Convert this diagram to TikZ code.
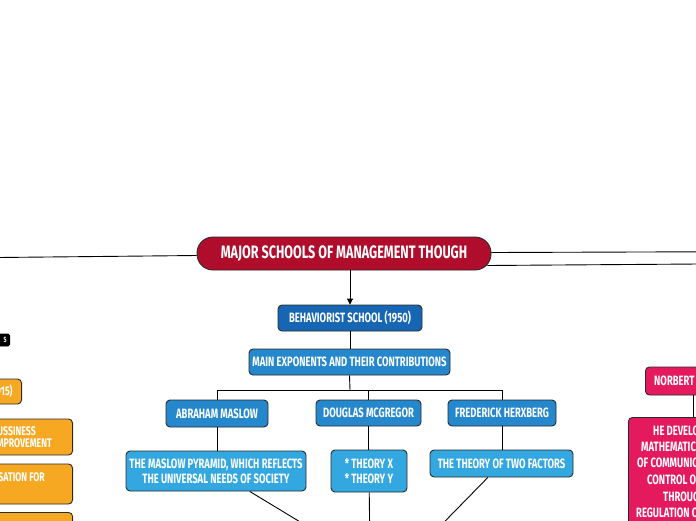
\documentclass[tikz,border=0pt]{standalone}
\usepackage{fontspec}
\setmainfont{Fira Sans}[FakeStretch=0.7]
\usetikzlibrary{arrows.meta}
\definecolor{rootred}{HTML}{B00C2B}
\definecolor{behavblue}{HTML}{1666B3}
\definecolor{midblue}{HTML}{2587CC}
\definecolor{lightblue}{HTML}{33A7E0}
\definecolor{orangebox}{HTML}{F7A823}
\definecolor{pinkbox}{HTML}{E5195E}
\definecolor{edge}{HTML}{2B2B2B}
\begin{document}
\begin{tikzpicture}[x=1pt,y=-1pt,
  box/.style={draw=edge, line width=0.9pt, rounded corners=4pt, text=white,
    font=\bfseries\fontsize{13.5}{15}\selectfont, inner sep=0pt, align=center},
  rootbox/.style={box, fill=rootred, rounded corners=16pt, font=\bfseries\fontsize{18}{20}\selectfont},
  lbl/.style={text=white, font=\bfseries\fontsize{13.5}{15}\selectfont, inner sep=0pt},
  lbls/.style={lbl, font=\bfseries\fontsize{12.5}{14}\selectfont},
  link/.style={draw=black, line width=0.9pt},
]
\path[use as bounding box] (0,0) rectangle (696,520);
\fill[white] (0,0) rectangle (696,520);
\clip (0,0) rectangle (696,520);

% coordinates for free ends
\coordinate (leftEnd) at (-2,257.5);
\coordinate (rightA) at (698,251.8);
\coordinate (rightB) at (698,264);
\coordinate (c1) at (363,560);
\coordinate (c2) at (370,560);
\coordinate (c3) at (407,560);
\coordinate (hub) at (350,390);

% nodes
\node[rootbox, minimum width=294, minimum height=33] (root) at (344,253.5) {MAJOR SCHOOLS OF MANAGEMENT THOUGH};
\node[box, fill=behavblue, minimum width=144, minimum height=26] (behav) at (350,318) {BEHAVIORIST SCHOOL (1950)};
\node[box, fill=midblue, minimum width=201, minimum height=26] (main) at (349.5,362) {MAIN EXPONENTS AND THEIR CONTRIBUTIONS};
\node[box, fill=midblue, minimum width=102, minimum height=27] (maslow) at (217,413.5) {ABRAHAM MASLOW};
\node[box, fill=midblue, minimum width=105, minimum height=26] (dm) at (368.5,413) {DOUGLAS MCGREGOR};
\node[box, fill=midblue, minimum width=108, minimum height=26] (herx) at (502,413) {FREDERICK HERXBERG};
\node[box, fill=lightblue, minimum width=180, minimum height=40] (pyr) at (216,471) {THE MASLOW PYRAMID, WHICH REFLECTS\\THE UNIVERSAL NEEDS OF SOCIETY};
\node[box, fill=lightblue, minimum width=76, minimum height=42, align=left] (xy) at (369,471) {* THEORY X\\* THEORY Y};
\node[box, fill=lightblue, minimum width=143, minimum height=27] (two) at (501.5,463.5) {THE THEORY OF TWO FACTORS};

% left side (cut off at the edge, as in the reference)
\node[box, fill=black, draw=black, rounded corners=1.5pt, anchor=east, minimum width=30, minimum height=12,
  text width=24, align=right, inner xsep=3pt, font=\bfseries\fontsize{7.5}{8}\selectfont] (blk) at (10,340) {S};
\node[box, fill=orangebox, anchor=east, minimum width=70, minimum height=25, text width=60, align=right, inner xsep=9pt,
  font=\bfseries\fontsize{12.5}{14}\selectfont] (o1) at (22,391.5) {(1915)};
\node[box, fill=orangebox, anchor=east, minimum width=140, minimum height=36] (o2) at (73,437) {};
\node[lbls, anchor=east] (o2a) at (36,431.5) {BUSSINESS};
\node[lbls, anchor=east] (o2b) at (52,443.5) {IMPROVEMENT};
\node[box, fill=orangebox, anchor=east, minimum width=140, minimum height=40] (o3) at (73,484) {};
\node[lbls, anchor=east] (o3a) at (45,477) {ORGANISATION FOR};
\node[box, fill=orangebox, anchor=north east, minimum width=140, minimum height=30] (o4) at (73,512) {};

% right side (cut off at the edge, as in the reference)
\node[box, fill=pinkbox, anchor=west, minimum width=120, minimum height=28] (n1) at (645,381) {};
\node[lbl, anchor=west] (n1a) at (654,381) {NORBERT WIENER};
\node[box, fill=pinkbox, anchor=north west, minimum width=160, minimum height=120] (n2) at (628,417) {};
\node[lbl, anchor=west] (t1) at (653,431) {HE DEVELOPED};
\node[lbl, anchor=west] (t2) at (641,447) {MATHEMATICAL};
\node[lbl, anchor=west] (t3) at (637,463) {OF COMMUNICATION};
\node[lbl, anchor=west] (t4) at (647,479.5) {CONTROL OF};
\node[lbl, anchor=west] (t5) at (663,497) {THROUGH};
\node[lbl, anchor=west] (t6) at (636,513) {REGULATION OF};

% connectors
\draw[link] ([yshift=-2pt]root.west) -- (leftEnd);
\draw[link] ([yshift=1pt]root.east) -- (rightA);
\draw[link] ([xshift=-4pt,yshift=-12pt]root.east) -- (rightB);
\draw[link, -{Triangle[length=6pt,width=6pt]}] (behav.north |- root.south) -- (behav.north);
\draw[link] (behav.south) -- (behav.south |- main.north);
\draw[link] (main.south) -- (hub);
\draw[link] (hub) -| (maslow.north);
\draw[link] (hub) -| (dm.north);
\draw[link] (hub) -| (herx.north);
\draw[link] (maslow.south) -- (maslow.south |- pyr.north);
\draw[link] (dm.south) -- (dm.south |- xy.north);
\draw[link] (herx.south) -- (herx.south |- two.north);
\draw[link] (pyr) -- (c1);
\draw[link] (xy) -- (c2);
\draw[link] (two) -- (c3);
\draw[link] ([xshift=48pt]n1.south west) -- ([xshift=65pt]n2.north west);
\end{tikzpicture}
\end{document}
